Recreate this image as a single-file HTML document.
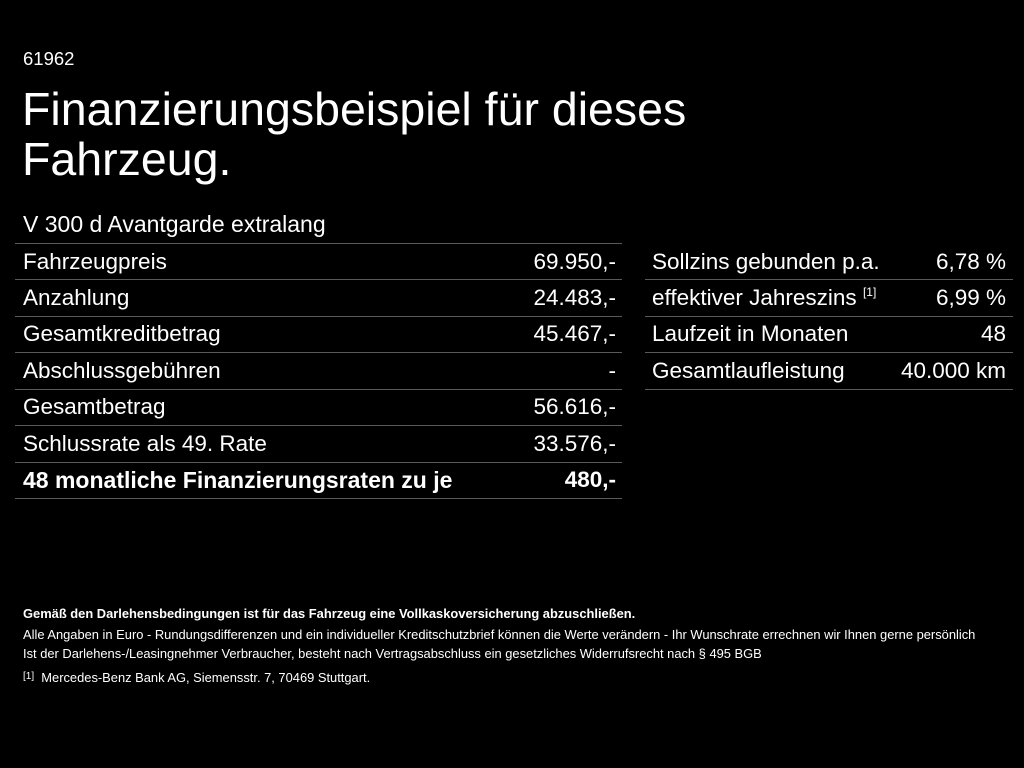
<!DOCTYPE html>
<html><head><meta charset="utf-8"><style>
body{margin:0;width:1024px;height:768px;background:#000;color:#fff;font-family:"Liberation Sans",sans-serif;position:relative;overflow:hidden}
.a{position:absolute;white-space:nowrap}
.l{position:absolute;height:1px;background:#5a5a5a}
.r{position:absolute;font-size:22.5px;line-height:36px;height:36px;white-space:nowrap}
.v{position:absolute;font-size:22.5px;line-height:36px;text-align:right;white-space:nowrap}
.s{font-size:12.9px;line-height:15px}
</style></head><body>
<div class="a" style="left:23px;top:48px;font-size:18.5px">61962</div>
<div class="a" style="left:22px;top:84px;font-size:46.5px;line-height:50px">Finanzierungsbeispiel für dieses<br>Fahrzeug.</div>
<div class="a" style="left:23px;top:209px;font-size:23px;line-height:30px">V 300 d Avantgarde extralang</div>

<div class="l" style="left:15px;width:607px;top:243px"></div>
<div class="l" style="left:15px;width:607px;top:279px"></div>
<div class="l" style="left:15px;width:607px;top:316px"></div>
<div class="l" style="left:15px;width:607px;top:352px"></div>
<div class="l" style="left:15px;width:607px;top:389px"></div>
<div class="l" style="left:15px;width:607px;top:425px"></div>
<div class="l" style="left:15px;width:607px;top:462px"></div>
<div class="l" style="left:15px;width:607px;top:498px"></div>

<div class="r" style="left:23px;top:244px">Fahrzeugpreis</div><div class="v" style="right:408px;top:244px">69.950,-</div>
<div class="r" style="left:23px;top:280px">Anzahlung</div><div class="v" style="right:408px;top:280px">24.483,-</div>
<div class="r" style="left:23px;top:316px">Gesamtkreditbetrag</div><div class="v" style="right:408px;top:316px">45.467,-</div>
<div class="r" style="left:23px;top:353px">Abschlussgebühren</div><div class="v" style="right:408px;top:353px">-</div>
<div class="r" style="left:23px;top:389px">Gesamtbetrag</div><div class="v" style="right:408px;top:389px">56.616,-</div>
<div class="r" style="left:23px;top:426px">Schlussrate als 49. Rate</div><div class="v" style="right:408px;top:426px">33.576,-</div>
<div class="r" style="left:23px;top:462px;font-weight:bold;font-size:23px">48 monatliche Finanzierungsraten zu je</div><div class="v" style="right:408px;top:462px;font-weight:bold">480,-</div>

<div class="l" style="left:645px;width:368px;top:279px"></div>
<div class="l" style="left:645px;width:368px;top:316px"></div>
<div class="l" style="left:645px;width:368px;top:352px"></div>
<div class="l" style="left:645px;width:368px;top:389px"></div>
<div class="r" style="left:652px;top:244px">Sollzins gebunden p.a.</div><div class="v" style="right:18px;top:244px">6,78 %</div>
<div class="r" style="left:652px;top:280px">effektiver Jahreszins <span style="font-size:12px;position:relative;top:-9px">[1]</span></div><div class="v" style="right:18px;top:280px">6,99 %</div>
<div class="r" style="left:652px;top:316px">Laufzeit in Monaten</div><div class="v" style="right:18px;top:316px">48</div>
<div class="r" style="left:652px;top:353px">Gesamtlaufleistung</div><div class="v" style="right:18px;top:353px">40.000 km</div>

<div class="a s" style="left:23px;top:606px;font-weight:bold;font-size:12.9px">Gemäß den Darlehensbedingungen ist für das Fahrzeug eine Vollkaskoversicherung abzuschließen.</div>
<div class="a s" style="left:23px;top:627px">Alle Angaben in Euro - Rundungsdifferenzen und ein individueller Kreditschutzbrief können die Werte verändern - Ihr Wunschrate errechnen wir Ihnen gerne persönlich</div>
<div class="a s" style="left:23px;top:646px">Ist der Darlehens-/Leasingnehmer Verbraucher, besteht nach Vertragsabschluss ein gesetzliches Widerrufsrecht nach § 495 BGB</div>
<div class="a s" style="left:23px;top:670px"><span style="font-size:10px;position:relative;top:-3px">[1]</span>&nbsp; Mercedes-Benz Bank AG, Siemensstr. 7, 70469 Stuttgart.</div>
</body></html>
